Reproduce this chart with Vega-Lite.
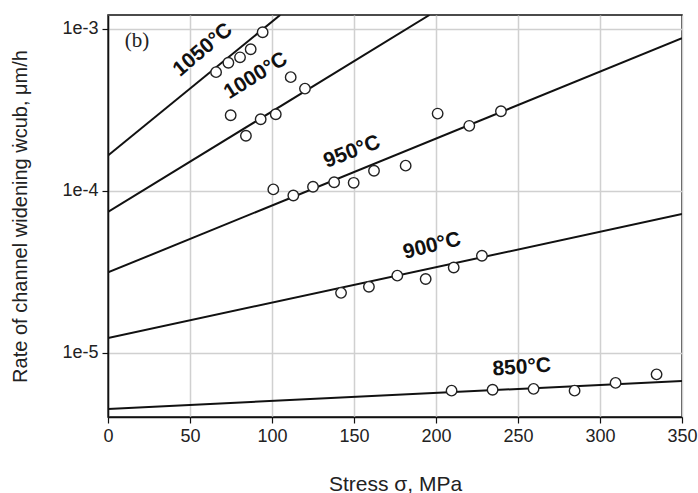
{
  "$schema": "https://vega.github.io/schema/vega-lite/v6.json",
  "width": 574,
  "height": 402,
  "autosize": {"type": "none"},
  "padding": {"left": 108, "top": 15, "right": 16, "bottom": 76},
  "background": "white",
  "config": {
    "view": {"stroke": "#111", "strokeWidth": 1.5},
    "axis": {
      "labelFont": "Liberation Sans",
      "labelFontSize": 18,
      "labelColor": "#222",
      "titleFont": "Liberation Sans",
      "titleFontSize": 21,
      "titleFontWeight": "normal",
      "titleColor": "#222",
      "domainColor": "#111",
      "domainWidth": 1.5,
      "tickColor": "#111",
      "tickWidth": 1.2,
      "tickSize": 6,
      "gridColor": "#d0d0d0",
      "gridWidth": 1.5,
      "labelFlush": false,
      "labelOverlap": false
    }
  },
  "datasets": {
    "lines": [
      {"T": "1050", "stress": 0, "rate": 0.000165},
      {"T": "1050", "stress": 105, "rate": 0.00122},
      {"T": "1000", "stress": 0, "rate": 0.000074},
      {"T": "1000", "stress": 196, "rate": 0.00122},
      {"T": "950", "stress": 0, "rate": 0.0000313},
      {"T": "950", "stress": 350, "rate": 0.000877},
      {"T": "900", "stress": 0, "rate": 0.0000123},
      {"T": "900", "stress": 350, "rate": 0.0000718},
      {"T": "850", "stress": 0, "rate": 0.00000449},
      {"T": "850", "stress": 350, "rate": 0.00000668}
    ],
    "points": [
      {"T": "1050", "stress": 65.9, "rate": 0.000541},
      {"T": "1050", "stress": 73.4, "rate": 0.000619},
      {"T": "1050", "stress": 80.5, "rate": 0.000668},
      {"T": "1050", "stress": 87.0, "rate": 0.00075},
      {"T": "1050", "stress": 94.3, "rate": 0.000955},
      {"T": "1000", "stress": 74.8, "rate": 0.000293},
      {"T": "1000", "stress": 84.1, "rate": 0.000219},
      {"T": "1000", "stress": 93.1, "rate": 0.000277},
      {"T": "1000", "stress": 102.3, "rate": 0.000297},
      {"T": "1000", "stress": 111.4, "rate": 0.000504},
      {"T": "1000", "stress": 120.1, "rate": 0.000428},
      {"T": "950", "stress": 100.8, "rate": 0.000102},
      {"T": "950", "stress": 113.0, "rate": 0.0000935},
      {"T": "950", "stress": 125.0, "rate": 0.000106},
      {"T": "950", "stress": 137.9, "rate": 0.000113},
      {"T": "950", "stress": 149.8, "rate": 0.000112},
      {"T": "950", "stress": 162.2, "rate": 0.000133},
      {"T": "950", "stress": 181.5, "rate": 0.000143},
      {"T": "950", "stress": 201.0, "rate": 0.0003},
      {"T": "950", "stress": 220.3, "rate": 0.000252},
      {"T": "950", "stress": 239.6, "rate": 0.00031},
      {"T": "900", "stress": 142.1, "rate": 0.0000234},
      {"T": "900", "stress": 159.1, "rate": 0.0000255},
      {"T": "900", "stress": 176.4, "rate": 0.0000299},
      {"T": "900", "stress": 193.7, "rate": 0.0000285},
      {"T": "900", "stress": 210.8, "rate": 0.0000336},
      {"T": "900", "stress": 228.0, "rate": 0.0000397},
      {"T": "850", "stress": 209.5, "rate": 0.00000582},
      {"T": "850", "stress": 234.5, "rate": 0.00000589},
      {"T": "850", "stress": 259.5, "rate": 0.00000597},
      {"T": "850", "stress": 284.5, "rate": 0.00000582},
      {"T": "850", "stress": 309.5, "rate": 0.0000065},
      {"T": "850", "stress": 334.5, "rate": 0.00000734}
    ],
    "labels": [
      {"label": "1050°C", "stress": 57.9, "rate": 0.000742},
      {"label": "1000°C", "stress": 90.2, "rate": 0.000513},
      {"label": "950°C", "stress": 148.8, "rate": 0.000174},
      {"label": "900°C", "stress": 197.6, "rate": 0.0000456},
      {"label": "850°C", "stress": 252.3, "rate": 0.00000809},
      {"label": "(b)", "stress": 17.7, "rate": 0.000843}
    ]
  },
  "encoding": {
    "x": {
      "field": "stress",
      "type": "quantitative",
      "scale": {"domain": [0, 350], "nice": false, "zero": false},
      "axis": {
        "title": "Stress σ, MPa",
        "values": [0, 50, 100, 150, 200, 250, 300, 350],
        "labelPadding": 4,
        "titlePadding": 28
      }
    },
    "y": {
      "field": "rate",
      "type": "quantitative",
      "scale": {"type": "log", "domain": [0.000004, 0.00122], "nice": false},
      "axis": {
        "title": "Rate of channel widening ẇcub, μm/h",
        "titleFontSize": 20,
        "values": [0.00001, 0.0001, 0.001],
        "format": ".0e",
        "labelPadding": 4,
        "titlePadding": 31
      }
    }
  },
  "layer": [
    {
      "data": {"name": "lines"},
      "mark": {"type": "line", "color": "#111", "strokeWidth": 2, "clip": true},
      "encoding": {"detail": {"field": "T"}}
    },
    {
      "data": {"name": "points"},
      "mark": {"type": "point", "shape": "circle", "filled": true, "fill": "white", "stroke": "#222", "strokeWidth": 1.4, "size": 110, "opacity": 1}
    },
    {
      "data": {"name": "labels"},
      "transform": [{"filter": "datum.label == '1050°C'"}],
      "mark": {"type": "text", "font": "Liberation Sans", "fontWeight": "bold", "fontSize": 21, "angle": -40, "color": "#111"},
      "encoding": {"text": {"field": "label"}}
    },
    {
      "data": {"name": "labels"},
      "transform": [{"filter": "datum.label == '1000°C'"}],
      "mark": {"type": "text", "font": "Liberation Sans", "fontWeight": "bold", "fontSize": 21, "angle": -32, "color": "#111"},
      "encoding": {"text": {"field": "label"}}
    },
    {
      "data": {"name": "labels"},
      "transform": [{"filter": "datum.label == '950°C'"}],
      "mark": {"type": "text", "font": "Liberation Sans", "fontWeight": "bold", "fontSize": 21, "angle": -21, "color": "#111"},
      "encoding": {"text": {"field": "label"}}
    },
    {
      "data": {"name": "labels"},
      "transform": [{"filter": "datum.label == '900°C'"}],
      "mark": {"type": "text", "font": "Liberation Sans", "fontWeight": "bold", "fontSize": 21, "angle": -14, "color": "#111"},
      "encoding": {"text": {"field": "label"}}
    },
    {
      "data": {"name": "labels"},
      "transform": [{"filter": "datum.label == '850°C'"}],
      "mark": {"type": "text", "font": "Liberation Sans", "fontWeight": "bold", "fontSize": 21, "angle": -4, "color": "#111"},
      "encoding": {"text": {"field": "label"}}
    },
    {
      "data": {"name": "labels"},
      "transform": [{"filter": "datum.label == '(b)'"}],
      "mark": {"type": "text", "font": "Liberation Serif", "fontSize": 21, "color": "#222"},
      "encoding": {"text": {"field": "label"}}
    }
  ]
}
